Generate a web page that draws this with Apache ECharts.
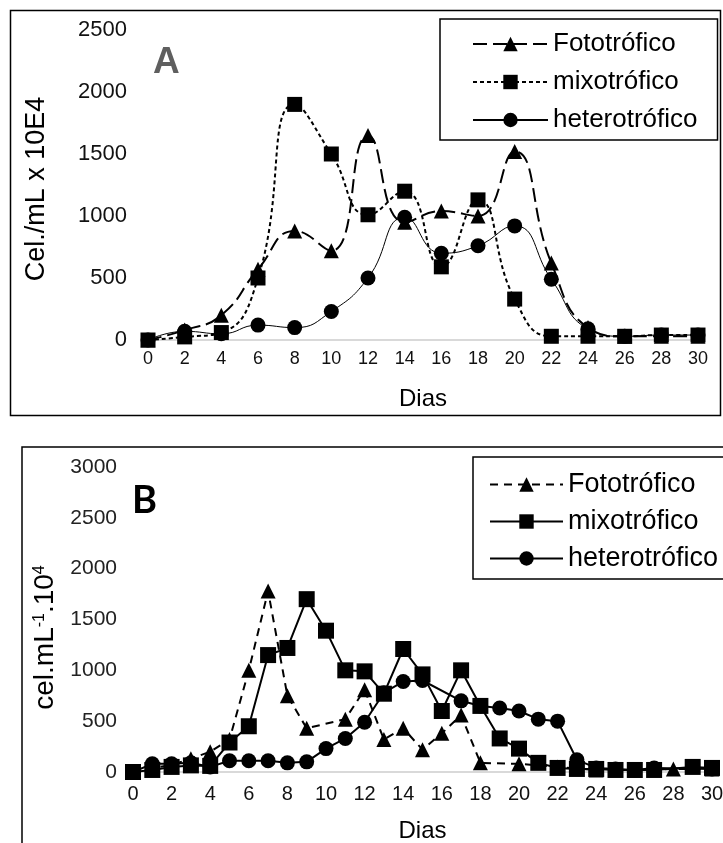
<!DOCTYPE html>
<html>
<head>
<meta charset="utf-8">
<script src="https://cdn.jsdelivr.net/npm/echarts@6/dist/echarts.min.js"></script>
<style>
  html, body { margin: 0; padding: 0; background: #fff; }
  #chartA { position: absolute; left: 0; top: 0; width: 723px; height: 430px; }
  #chartB { position: absolute; left: 0; top: 430px; width: 723px; height: 413px; }
</style>
</head>
<body>
<div id="chartA"></div>
<div id="chartB"></div>
<script>
// ---- datos A (cada 2 dias) ----
var diasA = [0, 2, 4, 6, 8, 10, 12, 14, 16, 18, 20, 22, 24, 26, 28, 30];
var fotoA = [0, 80, 200, 570, 880, 720, 1650, 950, 1040, 1000, 1520, 620, 100, 30, 30, 30];
var mixoA = [0, 25, 60, 500, 1900, 1500, 1010, 1200, 590, 1130, 330, 30, 30, 30, 40, 40];
var heteroA = [0, 70, 50, 120, 100, 230, 500, 990, 700, 760, 920, 490, 90, 30, 40, 40];

// ---- datos B (diario, null = sin punto) ----
var diasB = [0, 1, 2, 3, 4, 5, 6, 7, 8, 9, 10, 11, 12, 13, 14, 15, 16, 17, 18, 19, 20, 21, 22, 23, 24, 25, 26, 27, 28, 29, 30];
var fotoB = [0, 40, 70, 130, 200, 320, 1000, 1780, 750, 430, null, 520, 810, 320, 430, 220, 380, 560, 90, null, 80, null, 50, null, 20, null, 20, null, 30, null, 30];
var mixoB = [0, 20, 50, 65, 60, 290, 450, 1150, 1220, 1700, 1390, 1000, 990, 770, 1210, 960, 600, 1000, 650, 330, 230, 90, 40, 30, 30, 20, 20, 20, null, 50, 40];
var heteroB = [0, 80, 80, 90, 50, 110, 110, 110, 90, 100, 230, 330, 490, 780, 890, 900, null, 700, 650, 630, 600, 520, 500, 120, 40, 30, 20, 40, null, null, 30];

var nombres = ['Fototrófico', 'mixotrófico', 'heterotrófico'];
var ticksY_A = [0, 2500, 500];
var ticksY_B = [0, 3000, 500];

var fuente = 'Liberation Sans, Arial, sans-serif';

function pares(xs, ys) {
    var out = [];
    for (var i = 0; i < xs.length; i++) {
        if (ys[i] !== null) out.push([xs[i], ys[i]]);
    }
    return out;
}
function simple(v) { return String(v); } // sin separador de miles

// ---------- grafico A ----------
var chartA = echarts.init(document.getElementById('chartA'));
chartA.setOption({
    animation: false,
    graphic: [
        { type: 'rect', shape: { x: 10.5, y: 10.5, width: 710, height: 405 },
          style: { fill: 'none', stroke: '#000', lineWidth: 1.5 } },
        { type: 'text', left: 153, top: 44,
          style: { text: 'A', font: 'bold 37px ' + fuente, fill: '#5f5f5f' } }
    ],
    legend: {
        orient: 'vertical',
        left: 440, top: 19,
        padding: [12, 20, 7, 32],
        itemWidth: 75, itemHeight: 18, itemGap: 12,
        borderColor: '#000', borderWidth: 1.5,
        textStyle: { fontFamily: fuente, fontSize: 26, color: '#000' },
        data: nombres
    },
    grid: { left: 148, right: 25, top: 30, height: 310, outerBoundsMode: 'none' },
    xAxis: {
        type: 'value', min: 0, max: 30, interval: 2,
        name: 'Dias', nameLocation: 'middle', nameGap: 47,
        nameTextStyle: { fontFamily: fuente, fontSize: 24, color: '#000' },
        axisLine: { lineStyle: { color: '#d9d9d9', width: 2 } },
        axisTick: { show: false },
        splitLine: { show: false },
        axisLabel: { fontFamily: fuente, fontSize: 18, color: '#111', margin: 10 }
    },
    yAxis: {
        type: 'value', min: ticksY_A[0], max: ticksY_A[1], interval: ticksY_A[2],
        name: 'Cel./mL x 10E4', nameLocation: 'middle', nameRotate: 90, nameGap: 98,
        nameTextStyle: { fontFamily: fuente, fontSize: 27, color: '#000', padding: [0, 8, 0, 0] },
        axisLine: { show: false },
        axisTick: { show: false },
        splitLine: { show: false },
        axisLabel: { fontFamily: fuente, fontSize: 22, color: '#111', margin: 21, formatter: simple }
    },
    series: [
        {
            name: nombres[0], type: 'line', smooth: true,
            data: pares(diasA, fotoA),
            symbol: 'triangle', symbolSize: 15,
            itemStyle: { color: '#000' },
            lineStyle: { color: '#000', width: 2, type: [14, 6] }
        },
        {
            name: nombres[1], type: 'line', smooth: true,
            data: pares(diasA, mixoA),
            symbol: 'rect', symbolSize: 15,
            itemStyle: { color: '#000' },
            lineStyle: { color: '#000', width: 2, type: [4, 3] }
        },
        {
            name: nombres[2], type: 'line', smooth: true,
            data: pares(diasA, heteroA),
            symbol: 'circle', symbolSize: 15,
            itemStyle: { color: '#000' },
            lineStyle: { color: '#000', width: 1 }
        }
    ]
});

// ---------- grafico B ----------
var chartB = echarts.init(document.getElementById('chartB'));
chartB.setOption({
    animation: false,
    graphic: [
        { type: 'rect', shape: { x: 22, y: 17, width: 720, height: 500 },
          style: { fill: 'none', stroke: '#000', lineWidth: 1.5 } },
        { type: 'text', left: 132, top: 52,
          style: { text: 'B', font: 'bold 38px Lato, ' + fuente, fill: '#000' } }
    ],
    legend: {
        orient: 'vertical',
        left: 473, top: 27,
        padding: [14, 10, 7, 16],
        itemWidth: 73, itemHeight: 18, itemGap: 10,
        borderColor: '#000', borderWidth: 1.5,
        textStyle: { fontFamily: fuente, fontSize: 27, color: '#000' },
        data: nombres
    },
    grid: { left: 133, right: 11, top: 37, height: 305, outerBoundsMode: 'none' },
    xAxis: {
        type: 'value', min: 0, max: 30, interval: 2,
        name: 'Dias', nameLocation: 'middle', nameGap: 47,
        nameTextStyle: { fontFamily: fuente, fontSize: 24, color: '#000' },
        axisLine: { lineStyle: { color: '#d9d9d9', width: 2 } },
        axisTick: { show: false },
        splitLine: { show: false },
        axisLabel: { fontFamily: fuente, fontSize: 20, color: '#111', margin: 12 }
    },
    yAxis: {
        type: 'value', min: ticksY_B[0], max: ticksY_B[1], interval: ticksY_B[2],
        name: 'cel.mL{s|-1}.10{s|4}', nameLocation: 'middle', nameRotate: 90, nameGap: 72,
        nameTextStyle: {
            fontFamily: fuente, fontSize: 28, color: '#000', padding: [0, 36, 0, 0],
            rich: { s: { fontFamily: fuente, fontSize: 16, verticalAlign: 'top', padding: [0, 0, 12, 0] } }
        },
        axisLine: { show: false },
        axisTick: { show: false },
        splitLine: { show: false },
        axisLabel: { fontFamily: fuente, fontSize: 21, color: '#222', margin: 16, formatter: simple }
    },
    series: [
        {
            name: nombres[0], type: 'line', connectNulls: true,
            data: pares(diasB, fotoB),
            symbol: 'triangle', symbolSize: 15,
            itemStyle: { color: '#000' },
            lineStyle: { color: '#000', width: 2, type: [8, 6] }
        },
        {
            name: nombres[1], type: 'line',
            data: pares(diasB, mixoB),
            symbol: 'rect', symbolSize: 16,
            itemStyle: { color: '#000' },
            lineStyle: { color: '#000', width: 2 }
        },
        {
            name: nombres[2], type: 'line',
            data: pares(diasB, heteroB),
            symbol: 'circle', symbolSize: 15,
            itemStyle: { color: '#000' },
            lineStyle: { color: '#000', width: 2 }
        }
    ]
});
</script>
</body>
</html>
